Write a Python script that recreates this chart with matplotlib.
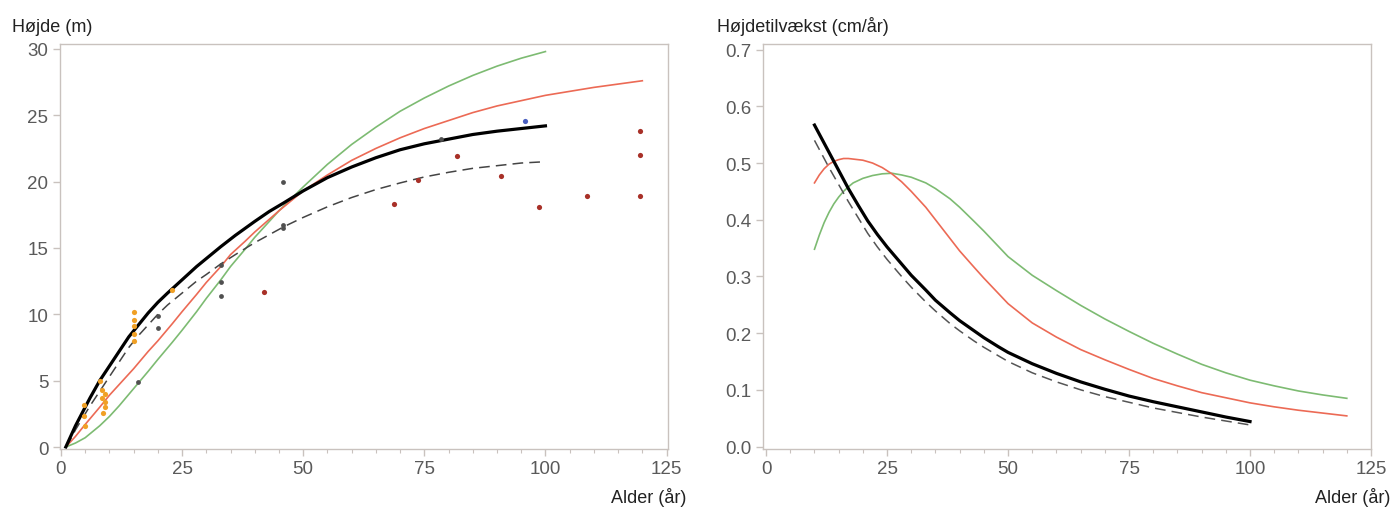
import matplotlib.pyplot as plt
from matplotlib.ticker import MultipleLocator

plt.rcParams['font.family'] = ['Liberation Sans', 'DejaVu Sans']

# ---- left panel: height (m) vs age ----
black_age = [1, 2, 3, 4, 5, 6, 7, 8, 10, 12, 14, 16, 18, 20, 22, 25, 28, 30, 33, 36, 40,
             43, 46, 50, 55, 60, 65, 70, 75, 80, 85, 90, 95, 100]
black_h = [0, 0.8, 1.6, 2.3, 3.0, 3.7, 4.35, 5.0, 6.1, 7.2, 8.3, 9.2, 10.1, 10.9, 11.6,
           12.6, 13.6, 14.2, 15.1, 15.95, 17.0, 17.75, 18.4, 19.3, 20.3, 21.1, 21.8, 22.4,
           22.85, 23.2, 23.55, 23.8, 24.0, 24.2]

dash_age = black_age
dash_h = [0, 0.6, 1.3, 1.9, 2.5, 3.1, 3.65, 4.2, 5.3, 6.4, 7.5, 8.4, 9.2, 10.0, 10.7,
          11.6, 12.5, 13.0, 13.8, 14.5, 15.4, 16.0, 16.6, 17.3, 18.1, 18.8, 19.4, 19.9,
          20.35, 20.7, 21.0, 21.2, 21.4, 21.5]

red_age = [1, 3, 5, 8, 10, 12, 15, 18, 20, 23, 25, 28, 30, 33, 35, 38, 40, 45, 50, 55,
           60, 65, 70, 75, 80, 85, 90, 95, 100, 105, 110, 115, 120]
red_h = [0, 0.8, 1.7, 3.0, 3.9, 4.7, 5.9, 7.2, 8.0, 9.3, 10.2, 11.5, 12.4, 13.6, 14.5,
         15.5, 16.2, 17.8, 19.3, 20.5, 21.6, 22.5, 23.3, 24.0, 24.6, 25.2, 25.7, 26.1,
         26.5, 26.8, 27.1, 27.35, 27.6]

green_age = [1, 3, 5, 8, 10, 12, 15, 18, 20, 23, 25, 28, 30, 33, 35, 38, 40, 45, 50, 55,
             60, 65, 70, 75, 80, 85, 90, 95, 100]
green_h = [0, 0.3, 0.7, 1.6, 2.3, 3.1, 4.4, 5.7, 6.6, 7.9, 8.8, 10.2, 11.2, 12.6, 13.6,
           14.9, 15.8, 17.8, 19.6, 21.3, 22.8, 24.1, 25.3, 26.3, 27.2, 28.0, 28.7, 29.3,
           29.8]

# observed points
orange_x = [4.8, 4.8, 5.0, 8.0, 8.5, 9.0, 8.5, 9.0, 9.0, 8.7, 15, 15, 15, 15, 15, 23]
orange_y = [3.2, 2.3, 1.6, 5.0, 4.3, 4.0, 3.7, 3.4, 3.0, 2.6, 10.2, 9.6, 9.1, 8.5, 8.0, 11.8]
gray_x = [16.0, 20.1, 20.1, 33.0, 33.0, 33.0, 45.9, 45.9, 45.9, 78.5]
gray_y = [4.9, 9.9, 9.0, 13.7, 12.4, 11.4, 20.0, 16.7, 16.5, 23.2]
dred_x = [41.9, 68.8, 73.7, 81.7, 90.8, 98.7, 108.6, 119.6, 119.6, 119.6]
dred_y = [11.7, 18.3, 20.1, 21.9, 20.4, 18.1, 18.9, 18.9, 22.0, 23.8]
blue_x = [95.7]
blue_y = [24.6]

# ---- right panel: height increment vs age ----
g_black_age = [10, 11, 12, 13, 14, 15, 17, 19, 21, 23, 25, 28, 30, 33, 35, 38, 40, 43, 45,
               48, 50, 55, 60, 65, 70, 75, 80, 85, 90, 95, 100]
g_black = [0.567, 0.551, 0.535, 0.519, 0.503, 0.487, 0.455, 0.426, 0.398, 0.374, 0.352,
           0.322, 0.302, 0.276, 0.258, 0.236, 0.222, 0.204, 0.192, 0.176, 0.166, 0.146,
           0.129, 0.114, 0.101, 0.089, 0.079, 0.070, 0.061, 0.052, 0.044]
g_dash = [0.54, 0.524, 0.508, 0.492, 0.477, 0.462, 0.432, 0.404, 0.376, 0.352, 0.330,
          0.300, 0.281, 0.255, 0.239, 0.217, 0.204, 0.186, 0.175, 0.160, 0.150, 0.130,
          0.114, 0.100, 0.088, 0.078, 0.068, 0.060, 0.052, 0.045, 0.038]

g_col_age = [10, 11, 12, 13, 14, 15, 16, 17, 18, 20, 22, 24, 26, 28, 30, 33, 35, 38, 40,
             43, 45, 48, 50, 55, 60, 65, 70, 75, 80, 85, 90, 95, 100, 105, 110, 115, 120]
g_red = [0.465, 0.479, 0.49, 0.498, 0.503, 0.506, 0.508, 0.508, 0.507, 0.505, 0.5, 0.492,
         0.481, 0.467, 0.45, 0.422, 0.40, 0.367, 0.345, 0.316, 0.297, 0.270, 0.252, 0.218,
         0.193, 0.171, 0.153, 0.136, 0.12, 0.107, 0.095, 0.086, 0.077, 0.070, 0.064,
         0.059, 0.054]
g_green = [0.348, 0.373, 0.395, 0.413, 0.428, 0.440, 0.450, 0.458, 0.465, 0.473, 0.478,
           0.481, 0.482, 0.479, 0.475, 0.465, 0.455, 0.437, 0.422, 0.397, 0.38, 0.353,
           0.335, 0.302, 0.275, 0.249, 0.225, 0.203, 0.182, 0.163, 0.145, 0.130, 0.117,
           0.107, 0.098, 0.091, 0.085]

x_ticks = [0, 25, 50, 75, 100, 125]

RED = '#ec6a55'
GREEN = '#7dbb72'
SPINE = '#c9c2be'
TICKTXT = '#5a5a5a'

fig = plt.figure(figsize=(13.92, 5.1), dpi=100)
ax1 = fig.add_axes([59.5 / 1392, 60 / 510, 608.5 / 1392, 405 / 510])
ax2 = fig.add_axes([762.7 / 1392, 60 / 510, 608.3 / 1392, 405 / 510])

ax1.plot(green_age, green_h, color=GREEN, lw=1.2)
ax1.plot(red_age, red_h, color=RED, lw=1.2)
ax1.plot(dash_age, dash_h, color='#444444', lw=1.1, ls=(0, (7, 4)))
ax1.plot(black_age, black_h, color='black', lw=2.3)
ax1.scatter(orange_x, orange_y, s=14, color='#f0a025', zorder=3, linewidths=0)
ax1.scatter(gray_x, gray_y, s=12, color='#505050', zorder=3, linewidths=0)
ax1.scatter(dred_x, dred_y, s=14, color='#a83028', zorder=3, linewidths=0)
ax1.scatter(blue_x, blue_y, s=14, color='#4a5fc0', zorder=3, linewidths=0)
ax1.set_xlim(-0.3, 125.3)
ax1.set_ylim(-0.15, 30.37)
ax1.set_yticks([0, 5, 10, 15, 20, 25, 30])

ax2.plot(g_col_age, g_green, color=GREEN, lw=1.2)
ax2.plot(g_col_age, g_red, color=RED, lw=1.2)
ax2.plot(g_black_age, g_dash, color='#555555', lw=1.1, ls=(0, (7, 4)))
ax2.plot(g_black_age, g_black, color='black', lw=2.3)
ax2.set_xlim(-0.7, 125)
ax2.set_ylim(-0.0044, 0.71)
ax2.set_yticks([0.0, 0.1, 0.2, 0.3, 0.4, 0.5, 0.6, 0.7])
ax2.set_yticklabels(['0.0', '0.1', '0.2', '0.3', '0.4', '0.5', '0.6', '0.7'])

for ax in (ax1, ax2):
    ax.set_xticks(x_ticks)
    ax.xaxis.set_minor_locator(MultipleLocator(5))
    for s in ax.spines.values():
        s.set_color(SPINE)
        s.set_linewidth(1.0)
    ax.tick_params(axis='both', which='major', length=5, width=1, color=SPINE,
                   labelcolor=TICKTXT, labelsize=13.5, pad=3)
    ax.tick_params(axis='x', which='minor', length=3, width=0.8, color=SPINE)

fig.text(12 / 1392, 1 - 27 / 510, 'Højde (m)', fontsize=13, color='#222222', va='center')
fig.text(717 / 1392, 1 - 27 / 510, 'Højdetilvækst (cm/år)', fontsize=13, color='#222222',
         va='center')
fig.text(686 / 1392, 1 - 498 / 510, 'Alder (år)', fontsize=13, color='#222222',
         va='center', ha='right')
fig.text(1390 / 1392, 1 - 498 / 510, 'Alder (år)', fontsize=13, color='#222222',
         va='center', ha='right')

fig.savefig('out.png', dpi=100)
